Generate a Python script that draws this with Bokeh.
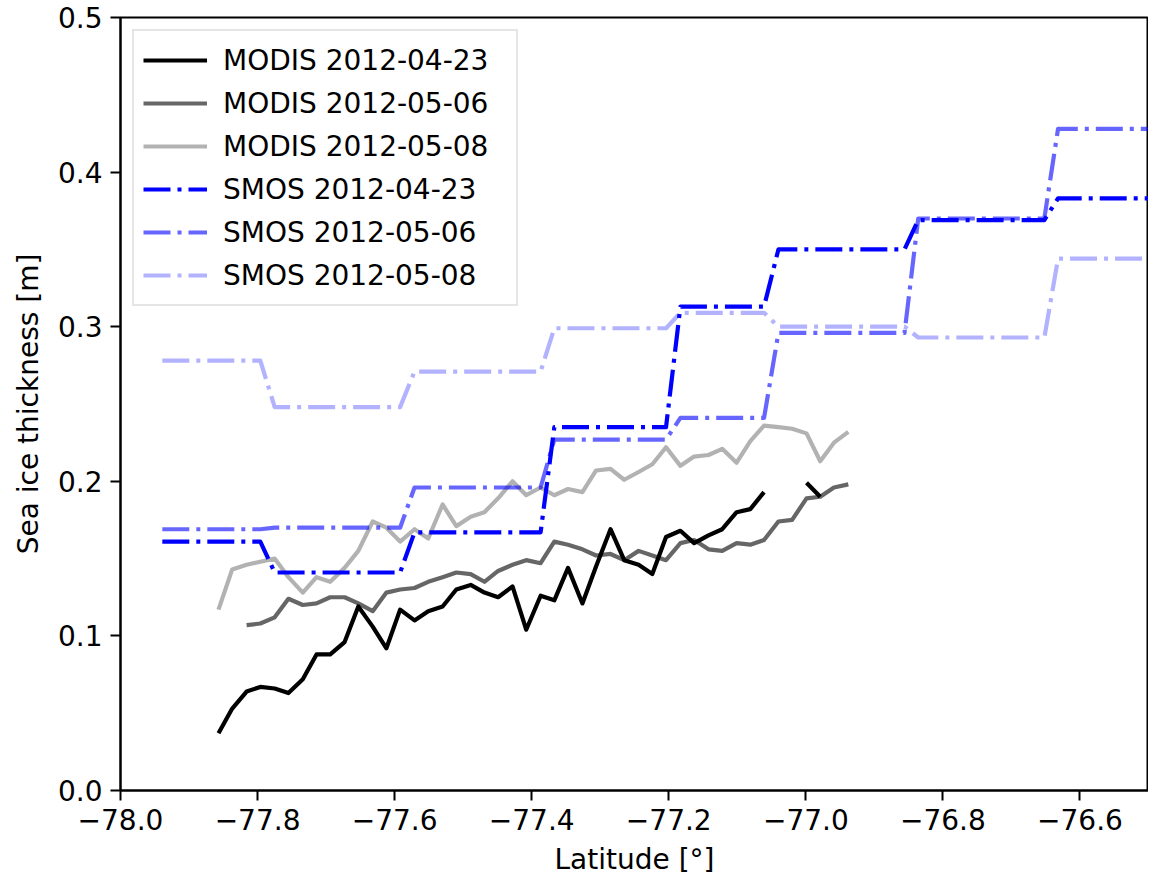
from bokeh.plotting import figure
from bokeh.models import Range1d, FixedTicker, Legend, LegendItem
from bokeh.embed import file_html
from bokeh.resources import INLINE

nan = float("nan")

# latitude grid (deg)
smos_lat = [
    -77.939, -77.918, -77.898, -77.877, -77.857, -77.837, -77.816, -77.796, -77.775, -77.755,
    -77.734, -77.714, -77.694, -77.673, -77.653, -77.632, -77.612, -77.592, -77.571, -77.551,
    -77.530, -77.510, -77.489, -77.469, -77.449, -77.428, -77.408, -77.387, -77.367, -77.347,
    -77.326, -77.306, -77.285, -77.265, -77.244, -77.224, -77.204, -77.183, -77.163, -77.142,
    -77.122, -77.101, -77.081, -77.061, -77.040, -77.020, -76.999, -76.979, -76.959, -76.938,
    -76.918, -76.897, -76.877, -76.856, -76.836, -76.815, -76.795, -76.775, -76.754, -76.734,
    -76.713, -76.693, -76.673, -76.652, -76.632, -76.611, -76.591, -76.570, -76.550, -76.530,
    -76.509, -76.489,
]

modis_lat = [
    -77.857, -77.837, -77.816, -77.796, -77.775, -77.755, -77.734, -77.714, -77.694, -77.673,
    -77.653, -77.632, -77.612, -77.592, -77.571, -77.551, -77.530, -77.510, -77.489, -77.469,
    -77.449, -77.428, -77.408, -77.387, -77.367, -77.347, -77.326, -77.306, -77.285, -77.265,
    -77.244, -77.224, -77.204, -77.183, -77.163, -77.142, -77.122, -77.101, -77.081, -77.061,
    -77.040, -77.020, -76.999, -76.979, -76.959, -76.938,
]

modis_2012_04_23 = [
    0.037, 0.053, 0.064, 0.067, 0.066, 0.063, 0.072, 0.088, 0.088, 0.096,
    0.119, 0.106, 0.092, 0.117, 0.110, 0.116, 0.119, 0.130, 0.133, 0.128,
    0.125, 0.132, 0.104, 0.126, 0.123, 0.144, 0.121, 0.145, 0.169, 0.149,
    0.146, 0.140, 0.164, 0.168, 0.160, 0.165, 0.169, 0.180, 0.182, 0.193,
    nan, nan, 0.199, 0.190, nan, nan,
]

modis_2012_05_06 = [
    nan, nan,
    0.107, 0.108, 0.112, 0.124, 0.120, 0.121, 0.125, 0.125, 0.121, 0.116,
    0.128, 0.130, 0.131, 0.135, 0.138, 0.141, 0.140, 0.135, 0.142, 0.146,
    0.149, 0.147, 0.161, 0.159, 0.156, 0.152, 0.153, 0.149, 0.155, 0.152,
    0.149, 0.160, 0.162, 0.156, 0.155, 0.160, 0.159, 0.162, 0.174, 0.175,
    0.189, 0.190, 0.196, 0.198,
]

modis_2012_05_08 = [
    0.117, 0.143, 0.146, 0.148, 0.150, 0.138, 0.128, 0.138, 0.135, 0.144,
    0.155, 0.174, 0.170, 0.161, 0.169, 0.163, 0.185, 0.171, 0.177, 0.180,
    0.189, 0.200, 0.191, 0.196, 0.191, 0.195, 0.193, 0.207, 0.208, 0.201,
    0.206, 0.211, 0.222, 0.210, 0.216, 0.217, 0.221, 0.212, 0.226, 0.236,
    0.235, 0.234, 0.231, 0.213, 0.225, 0.232,
]

smos_2012_04_23 = [
    0.161, 0.161, 0.161, 0.161, 0.161, 0.161, 0.161, 0.161,
    0.141, 0.141, 0.141, 0.141, 0.141, 0.141, 0.141, 0.141, 0.141, 0.141,
    0.167, 0.167, 0.167, 0.167, 0.167, 0.167, 0.167, 0.167, 0.167, 0.167,
    0.235, 0.235, 0.235, 0.235, 0.235, 0.235, 0.235, 0.235, 0.235,
    0.313, 0.313, 0.313, 0.313, 0.313, 0.313, 0.313,
    0.350, 0.350, 0.350, 0.350, 0.350, 0.350, 0.350, 0.350, 0.350, 0.350,
    0.369, 0.369, 0.369, 0.369, 0.369, 0.369, 0.369, 0.369, 0.369, 0.369,
    0.383, 0.383, 0.383, 0.383, 0.383, 0.383, 0.383, 0.383,
]

smos_2012_05_06 = [
    0.169, 0.169, 0.169, 0.169, 0.169, 0.169, 0.169, 0.169,
    0.170, 0.170, 0.170, 0.170, 0.170, 0.170, 0.170, 0.170, 0.170, 0.170,
    0.196, 0.196, 0.196, 0.196, 0.196, 0.196, 0.196, 0.196, 0.196, 0.196,
    0.227, 0.227, 0.227, 0.227, 0.227, 0.227, 0.227, 0.227, 0.227,
    0.241, 0.241, 0.241, 0.241, 0.241, 0.241, 0.241,
    0.296, 0.296, 0.296, 0.296, 0.296, 0.296, 0.296, 0.296, 0.296, 0.296,
    0.370, 0.370, 0.370, 0.370, 0.370, 0.370, 0.370, 0.370, 0.370, 0.370,
    0.428, 0.428, 0.428, 0.428, 0.428, 0.428, 0.428, 0.428,
]

smos_2012_05_08 = [
    0.278, 0.278, 0.278, 0.278, 0.278, 0.278, 0.278, 0.278,
    0.248, 0.248, 0.248, 0.248, 0.248, 0.248, 0.248, 0.248, 0.248, 0.248,
    0.271, 0.271, 0.271, 0.271, 0.271, 0.271, 0.271, 0.271, 0.271, 0.271,
    0.299, 0.299, 0.299, 0.299, 0.299, 0.299, 0.299, 0.299, 0.299,
    0.309, 0.309, 0.309, 0.309, 0.309, 0.309, 0.309,
    0.300, 0.300, 0.300, 0.300, 0.300, 0.300, 0.300, 0.300, 0.300, 0.300,
    0.293, 0.293, 0.293, 0.293, 0.293, 0.293, 0.293, 0.293, 0.293, 0.293,
    0.344, 0.344, 0.344, 0.344, 0.344, 0.344, 0.344, 0.344,
]

series_labels = ["MODIS 2012-04-23", "MODIS 2012-05-06", "MODIS 2012-05-08",
                 "SMOS 2012-04-23", "SMOS 2012-05-06", "SMOS 2012-05-08"]

x_ticks = [-78.0, -77.8, -77.6, -77.4, -77.2, -77.0, -76.8, -76.6]
x_tick_labels = ["\u221278.0", "\u221277.8", "\u221277.6", "\u221277.4",
                 "\u221277.2", "\u221277.0", "\u221276.8", "\u221276.6"]
y_ticks = [0.0, 0.1, 0.2, 0.3, 0.4, 0.5]
y_tick_labels = ["0.0", "0.1", "0.2", "0.3", "0.4", "0.5"]

FONT = "DejaVu Sans"
FS = "28px"

p = figure(frame_width=1028, frame_height=773,
           x_range=Range1d(-78.0, -76.5), y_range=Range1d(0.0, 0.5),
           output_backend="svg", toolbar_location=None,
           min_border_left=120, min_border_top=17, min_border_right=0, min_border_bottom=80,
           background_fill_color="white", border_fill_color="white")
p.grid.visible = False
p.outline_line_color = "black"
p.outline_line_width = 2

for ax in (p.xaxis[0], p.yaxis[0]):
    ax.axis_line_width = 2
    ax.axis_line_color = "black"
    ax.major_tick_line_width = 2
    ax.major_tick_out = 10
    ax.major_tick_in = 0
    ax.minor_tick_line_color = None
    ax.major_label_text_font = FONT
    ax.major_label_text_font_size = FS
    ax.major_label_text_color = "black"
    ax.major_label_standoff = 8
    ax.axis_label_text_font = FONT
    ax.axis_label_text_font_size = FS
    ax.axis_label_text_font_style = "normal"
    ax.axis_label_text_color = "black"
    ax.axis_label_standoff = 10

p.xaxis.ticker = FixedTicker(ticks=x_ticks)
p.xaxis.major_label_overrides = dict(zip(x_ticks, x_tick_labels))
p.yaxis.ticker = FixedTicker(ticks=y_ticks)
p.yaxis.major_label_overrides = dict(zip(y_ticks, y_tick_labels))
p.xaxis.axis_label = "Latitude [°]"
p.yaxis.axis_label = "Sea ice thickness [m]"

LW = 4.2
DASH = "27 7 4 7"
renderers = []
for vals, alpha in ((modis_2012_04_23, 1.0), (modis_2012_05_06, 0.6), (modis_2012_05_08, 0.3)):
    renderers.append(p.line(modis_lat, vals, line_color="black", line_alpha=alpha,
                            line_width=LW, line_join="round"))
for vals, alpha in ((smos_2012_04_23, 1.0), (smos_2012_05_06, 0.6), (smos_2012_05_08, 0.3)):
    renderers.append(p.line(smos_lat, vals, line_color="blue", line_alpha=alpha,
                            line_width=LW, line_dash=DASH, line_join="round"))

legend = Legend(items=[LegendItem(label=l, renderers=[r]) for l, r in zip(series_labels, renderers)],
                location="top_left", margin=12, padding=9, spacing=3,
                glyph_width=64, glyph_height=40, label_height=40, label_width=284,
                label_standoff=16, label_text_font=FONT, label_text_font_size=FS,
                label_text_color="black",
                border_line_color="#cccccc", border_line_width=2,
                background_fill_color="white", background_fill_alpha=0.8)
p.add_layout(legend)

open("out.html", "w").write(file_html(p, INLINE))
